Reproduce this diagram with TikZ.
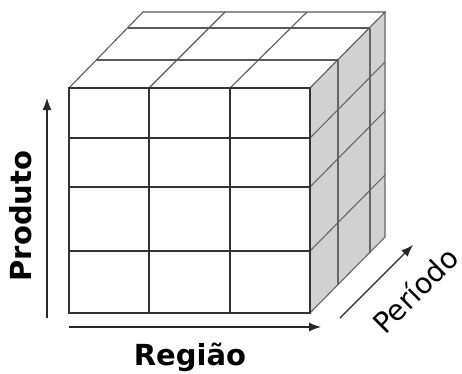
\documentclass[tikz,border=0pt]{standalone}
\usepackage{fontspec}
\newfontfamily\labelfont{DejaVu Sans}
\usetikzlibrary{arrows.meta}
\tikzset{
  frontline/.style={line width=1.2pt, draw=black!80},
  topline/.style={line width=1.1pt, draw=black!65},
  sidefill/.style={fill=black!18, draw=none},
  sideline/.style={line width=1.1pt, draw=black!60},
  axisarrow/.style={line width=1.2pt, draw=black!85, -{Latex[length=12pt,width=9pt]}},
  axislabel/.style={font=\labelfont\bfseries\fontsize{29}{34}\selectfont, inner sep=0pt},
  slantlabel/.style={font=\labelfont\fontsize{28.5}{33}\selectfont, inner sep=0pt, rotate=45},
}

\begin{document}
\begin{tikzpicture}[x=1pt,y=-1pt]
\useasboundingbox (0,0) rectangle (462,373);
% right face
\fill[sidefill] (310,88) -- (385,12) -- (385,237) -- (310,313) -- cycle;
\draw[sideline] (338,60) -- (338,285);
\draw[sideline] (370,28) -- (370,253);
\draw[sideline] (310,138) -- (385,62);
\draw[sideline] (310,187) -- (385,111);
\draw[sideline] (310,251) -- (385,175);
\draw[sideline] (385,12) -- (385,237) -- (310,313);
% top face
\draw[topline] (69,88) -- (143,12) -- (385,12) -- (310,88);
\draw[topline] (96,60) -- (338,60);
\draw[topline] (128,28) -- (370,28);
\draw[topline] (149,88) -- (225,12);
\draw[topline] (230,88) -- (307,12);
% front face
\draw[frontline] (69,88) rectangle (310,313);
\draw[frontline] (149,88) -- (149,313);
\draw[frontline] (230,88) -- (230,313);
\draw[frontline] (69,138) -- (310,138);
\draw[frontline] (69,187) -- (310,187);
\draw[frontline] (69,251) -- (310,251);
% axes
\coordinate (prodfrom) at (47,318);
\coordinate (prodto) at (47,98);
\coordinate (regfrom) at (69,327);
\coordinate (regto) at (321,327);
\coordinate (perfrom) at (340,318);
\coordinate (perto) at (413,245);
\draw[axisarrow] (prodfrom) -- (prodto);
\draw[axisarrow] (regfrom) -- (regto);
\draw[axisarrow] (perfrom) -- (perto);
\node[axislabel, rotate=90] (produto) at (21,216) {Produto};
\node[axislabel, anchor=base] (regiao) at (190,365) {Região};
\node[slantlabel] (periodo) at (415,290) {Período};
\end{tikzpicture}
\end{document}
